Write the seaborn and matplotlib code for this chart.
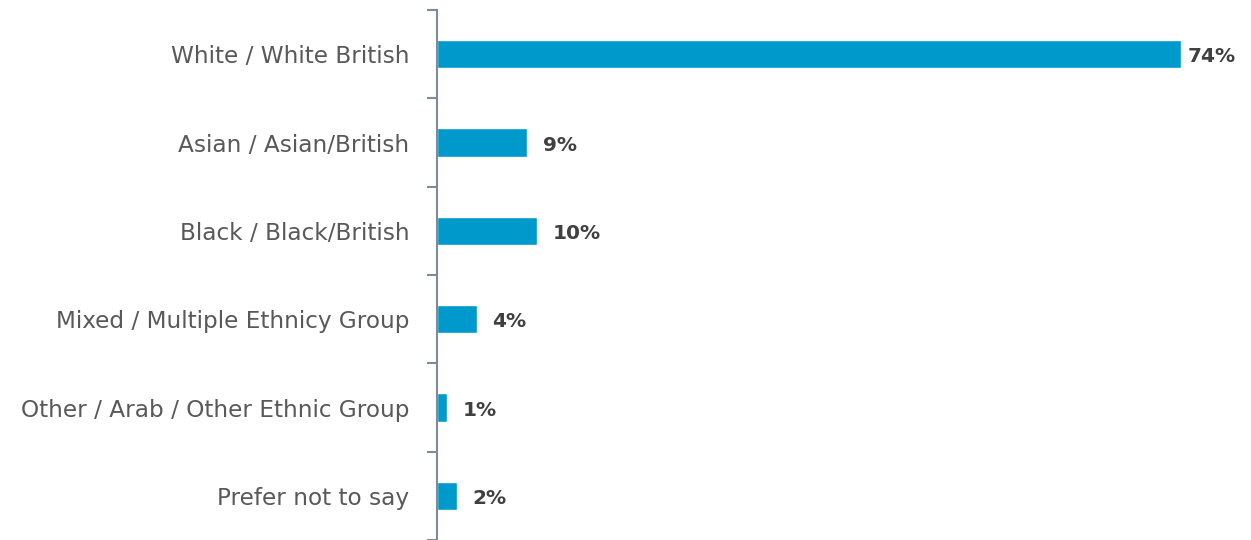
import matplotlib
matplotlib.use("Agg")
import matplotlib.pyplot as plt
import seaborn as sns
import pandas as pd
import numpy as np

categories = [
    "White / White British",
    "Asian / Asian/British",
    "Black / Black/British",
    "Mixed / Multiple Ethnicy Group",
    "Other / Arab / Other Ethnic Group",
    "Prefer not to say",
]
values = [74, 9, 10, 4, 1, 2]
value_labels = ["74%", "9%", "10%", "4%", "1%", "2%"]

sns.set_theme(style="white")
plt.rcParams["font.family"] = ["DejaVu Sans"]

df = pd.DataFrame({"group": categories, "pct": values})

fig = plt.figure(figsize=(12.51, 5.40), dpi=100)
ax = fig.add_axes([437 / 1251, 0.0, 1 - 437 / 1251, 1 - 10 / 540])

sns.barplot(data=df, y="group", x="pct", orient="h", color="#0099CC",
            saturation=1, width=0.32, ax=ax)

ax.set_xlim(0, 81)
ax.set_ylim(len(categories) - 0.5, -0.5)
ax.set_xlabel("")
ax.set_ylabel("")
ax.set_xticks([])

for s in ["top", "right", "bottom"]:
    ax.spines[s].set_visible(False)
ax.spines["left"].set_color("#7F8B97")
ax.spines["left"].set_linewidth(1.5)

# category labels at bar centres, tick marks at category boundaries
ax.set_yticks(range(len(categories)))
ax.set_yticklabels(categories, fontsize=16.7, color="#595959")
ax.tick_params(axis="y", which="major", length=0, pad=20)
ax.set_yticks(np.arange(-0.5, len(categories), 1.0), minor=True)
ax.tick_params(axis="y", which="minor", length=7, width=1.5, color="#7F8B97", left=True)

pads = [5, 11, 11, 11, 11, 11]
for bar, lab, p in zip(ax.patches, value_labels, pads):
    ax.annotate(lab, (bar.get_width(), bar.get_y() + bar.get_height() / 2),
                xytext=(p, -2), textcoords="offset points", va="center", ha="left",
                fontsize=14.5, fontweight="bold", color="#404040")

fig.savefig("out.png", dpi=100)
